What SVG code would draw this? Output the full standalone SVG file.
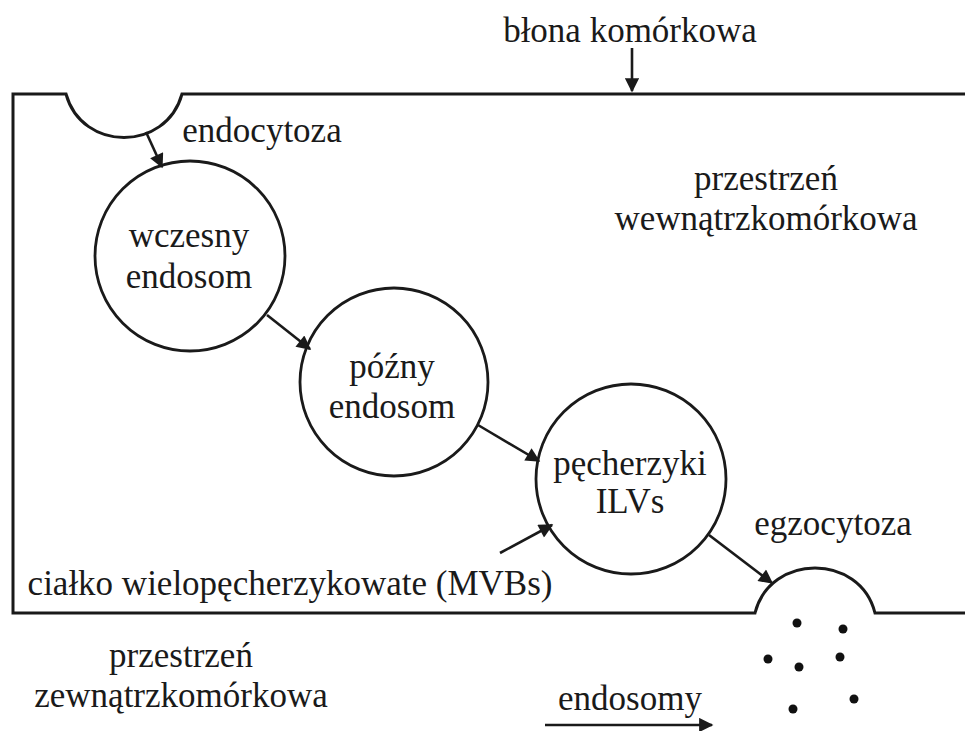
<svg xmlns="http://www.w3.org/2000/svg" width="965" height="731" viewBox="0 0 965 731">
<style>
text{font-family:"Liberation Serif","Times New Roman",serif;font-size:35px;fill:#1a1a1a;text-anchor:middle}
.mem{fill:none;stroke:#1a1a1a;stroke-width:3}
.node circle{fill:#fff;stroke:#1a1a1a;stroke-width:2.8}
.conn line{stroke:#1a1a1a;stroke-width:2.6;marker-end:url(#ah)}
.dot{fill:#111}
</style>
<defs>
<marker id="ah" viewBox="0 0 10 10" refX="9" refY="5" markerWidth="6.5" markerHeight="5.5" markerUnits="strokeWidth" orient="auto">
<path d="M0,0 L10,5 L0,10 z" fill="#1a1a1a"/>
</marker>
</defs>
<rect width="965" height="731" fill="#fff"/>
<g id="membrane">
<path class="mem" d="M970,94 L182,94 C166,152 82,152 66,94 L13,94 L13,613 L755,613 C770,553 860,553 875,613 L970,613"/>
</g>
<g id="labels">
<text x="630" y="42">błona komórkowa</text>
<text x="262" y="142">endocytoza</text>
<text x="766" y="190">przestrzeń</text>
<text x="766" y="230">wewnątrzkomórkowa</text>
<text x="833" y="535">egzocytoza</text>
<text x="290" y="595">ciałko wielopęcherzykowate (MVBs)</text>
<text x="181" y="667">przestrzeń</text>
<text x="181" y="707">zewnątrzkomórkowa</text>
<text x="630" y="710">endosomy</text>
</g>
<g id="early-endosome" class="node">
<circle cx="190" cy="256" r="95"/>
<text x="189" y="247">wczesny</text>
<text x="189" y="288">endosom</text>
</g>
<g id="late-endosome" class="node">
<circle cx="394" cy="382" r="94"/>
<text x="392" y="378">późny</text>
<text x="392" y="418">endosom</text>
</g>
<g id="ilv" class="node">
<circle cx="631" cy="479" r="95"/>
<text x="630" y="475">pęcherzyki</text>
<text x="630" y="513">ILVs</text>
</g>
<g id="exosomes">
<circle class="dot" cx="797" cy="623" r="4.5"/>
<circle class="dot" cx="843" cy="629" r="4.5"/>
<circle class="dot" cx="768" cy="659" r="4.5"/>
<circle class="dot" cx="799" cy="667" r="4.5"/>
<circle class="dot" cx="840" cy="657" r="4.5"/>
<circle class="dot" cx="793" cy="709" r="4.5"/>
<circle class="dot" cx="854" cy="699" r="4.5"/>
</g>
<g id="connectors" class="conn">
<line x1="632" y1="48" x2="632" y2="91"/>
<line x1="146" y1="132" x2="162" y2="167"/>
<line x1="267" y1="315" x2="310" y2="349"/>
<line x1="478" y1="425" x2="539" y2="461"/>
<line x1="500" y1="553" x2="552" y2="525"/>
<line x1="709" y1="535" x2="772" y2="583"/>
<line x1="545" y1="725" x2="712" y2="725"/>
</g>
</svg>
